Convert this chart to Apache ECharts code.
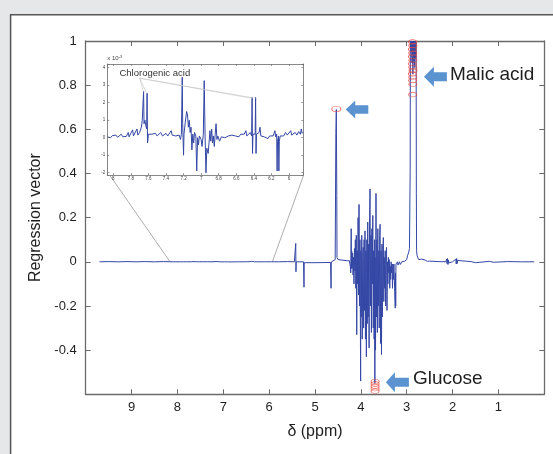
<!DOCTYPE html>
<html><head><meta charset="utf-8">
<script src="https://cdn.jsdelivr.net/npm/echarts@6/dist/echarts.min.js"></script>
<style>html,body{margin:0;padding:0;background:#fff}#c{width:553px;height:454px}</style>
</head><body><div id="c"></div>
<script>
// ---------- DATA (ppm, regression value) ----------
const spectrumHigh = [[9.70,0],[9.5,0.001],[9.3,0],[9.1,0.001],[8.9,0],[8.7,0.001],[8.5,0],[8.3,0.001],[8.1,0]];
// inset region, values in units of 1e-3
const insetSpectrum = [
[8.07,0.05],[8.05,0.1],[8.03,0.0],[8.01,0.12],[7.99,0.05],[7.97,0.15],[7.95,0.02],[7.93,0.1],[7.91,0.2],[7.89,0.05],
[7.87,0.15],[7.85,0.08],[7.83,0.3],[7.82,0.05],[7.80,0.15],[7.78,0.45],[7.77,0.1],[7.75,0.2],[7.73,0.5],[7.72,0.15],
[7.70,0.3],[7.68,0.6],[7.67,1.0],[7.66,0.9],[7.655,2.65],[7.65,0.8],[7.64,1.0],[7.63,0.7],[7.62,0.5],[7.615,2.55],
[7.61,-0.3],[7.60,0.2],[7.58,0.1],[7.56,0.2],[7.54,0.15],[7.52,0.25],[7.50,0.1],[7.48,0.2],[7.46,0.3],[7.44,0.1],
[7.42,0.15],[7.40,0.25],[7.38,0.1],[7.36,0.2],[7.34,0.4],[7.33,0.15],[7.31,0.2],[7.29,0.1],[7.27,0.2],[7.25,0.15],
[7.235,-0.1],[7.225,0.2],[7.215,3.45],[7.21,0.8],[7.20,-1.0],[7.195,0.2],[7.18,0.9],[7.165,1.5],[7.155,1.3],[7.145,0.6],
[7.135,1.0],[7.125,0.3],[7.115,0.6],[7.105,-0.7],[7.095,0.2],[7.085,-0.3],[7.075,0.3],[7.06,0.1],[7.05,-1.9],[7.04,0.0],
[7.03,-0.4],[7.02,0.1],[7.00,-0.1],[6.99,-0.5],[6.975,0.2],[6.965,3.26],[6.955,0.1],[6.945,-2.0],[6.935,-0.6],[6.92,-0.9],
[6.91,-0.3],[6.90,0.4],[6.89,-0.2],[6.88,0.5],[6.87,-0.3],[6.86,0.1],[6.85,-0.5],[6.84,0.2],[6.83,0.8],[6.82,-0.1],
[6.81,0.1],[6.79,-0.2],[6.77,0.05],[6.75,0.1],[6.73,0.0],[6.71,0.05],[6.69,0.1],[6.67,0.05],[6.65,0.15],[6.63,0.05],
[6.61,0.1],[6.59,0.15],[6.57,0.05],[6.55,0.2],[6.53,0.1],[6.51,0.2],[6.49,0.4],[6.48,0.1],[6.46,0.15],[6.44,0.3],
[6.425,0.1],[6.42,2.3],[6.415,-0.9],[6.41,0.2],[6.40,0.1],[6.385,0.2],[6.38,2.3],[6.375,-0.9],[6.37,0.2],[6.36,0.1],
[6.34,0.3],[6.33,0.6],[6.32,0.1],[6.30,0.2],[6.28,0.05],[6.26,0.1],[6.24,-0.05],[6.22,0.1],[6.20,0.0],[6.18,0.1],
[6.16,0.4],[6.15,0.05],[6.14,0.2],[6.135,-1.9],[6.13,-0.2],[6.12,0.1],[6.115,-1.9],[6.11,-0.2],[6.10,0.1],[6.08,0.2],
[6.06,0.1],[6.04,0.3],[6.02,0.15],[6.00,0.25],[5.98,0.4],[5.97,0.15],[5.95,0.2],[5.93,0.3],[5.91,0.15],[5.89,0.35],
[5.87,0.2],[5.86,0.5],[5.85,0.25],[5.84,0.3]
];
const spectrumLow = [
[5.80,0],[5.60,0.001],[5.45,0],[5.42,0.083],[5.415,-0.045],[5.41,0],[5.25,0],[5.24,-0.115],[5.235,-0.004],[5.0,-0.004],
[4.66,-0.003],[4.65,-0.12],[4.645,-0.01],[4.64,0],[4.56,0.01],[4.545,0.58],[4.535,0.69],[4.525,0.3],[4.52,0.02],[4.50,0.01],
[4.30,0.005],[4.25,0.005],[4.24,0.0],[4.23,-0.02],[4.22,-0.05],[4.215,0.08],[4.21,0.15],[4.205,-0.03],[4.20,0.05],[4.19,-0.03],
[4.18,0.04],[4.17,-0.06],[4.16,0.02],[4.15,-0.1],[4.14,0.06],[4.13,-0.04],[4.12,0.1],[4.11,-0.12],[4.10,0.12],[4.09,-0.33],
[4.08,0.05],[4.07,-0.1],[4.06,0.2],[4.05,-0.15],[4.04,0.26],[4.03,-0.2],[4.02,0.1],[4.01,-0.3],[4.005,-0.54],[4.00,0.05],
[3.99,-0.25],[3.98,0.12],[3.97,-0.35],[3.96,0.02],[3.95,0.065],[3.94,-0.3],[3.93,0.1],[3.92,-0.22],[3.91,0.14],[3.90,-0.35],
[3.89,0.05],[3.88,-0.43],[3.87,0.1],[3.86,-0.28],[3.85,0.18],[3.84,-0.25],[3.83,0.08],[3.82,-0.39],[3.81,0.2],[3.80,0.33],
[3.79,-0.2],[3.78,0.12],[3.77,-0.32],[3.76,0.15],[3.75,-0.1],[3.74,0.21],[3.73,-0.3],[3.72,0.05],[3.71,-0.35],[3.70,0.1],
[3.695,-0.55],[3.69,0.02],[3.68,-0.4],[3.67,0.31],[3.66,-0.25],[3.65,0.1],[3.64,-0.32],[3.63,0.15],[3.62,-0.2],[3.61,0.05],
[3.60,-0.3],[3.59,0.12],[3.58,0.17],[3.57,-0.37],[3.56,0.05],[3.55,-0.42],[3.54,0.08],[3.53,-0.25],[3.52,0.03],[3.51,0.11],
[3.50,-0.18],[3.49,0.02],[3.48,-0.12],[3.47,0.05],[3.46,-0.2],[3.45,0.03],[3.44,0.065],[3.43,-0.22],[3.42,0.0],[3.41,-0.1],
[3.40,0.02],[3.39,-0.05],[3.38,0.01],[3.37,-0.12],[3.36,-0.02],[3.35,-0.08],[3.34,0.0],[3.33,-0.05],[3.32,-0.01],[3.31,-0.12],
[3.30,-0.01],[3.29,-0.08],[3.28,-0.01],[3.27,-0.01],[3.25,-0.21],[3.245,-0.05],[3.24,-0.2],[3.235,-0.01],[3.22,-0.01],[3.20,0.0],
[3.19,-0.015],[3.17,-0.015],[3.16,0],[3.14,-0.012],[3.12,-0.012],[3.11,0],[3.05,0.002],[3.00,0.01],[2.98,0.03],[2.96,0.04],
[2.94,0.06],[2.925,0.41],[2.92,1.0],[2.905,0.95],[2.895,1.0],[2.885,0.9],[2.875,1.0],[2.865,0.85],[2.855,1.0],[2.845,0.9],
[2.835,1.0],[2.825,0.88],[2.815,1.0],[2.805,0.92],[2.795,1.0],[2.79,0.31],[2.785,0.05],[2.775,0.03],[2.76,0.02],[2.74,0.01],
[2.70,0.01],[2.68,0.012],[2.65,0.005],[2.60,0.008],[2.55,0.002],[2.50,0.003],[2.30,0.001],[2.15,0],[2.13,0.012],[2.12,-0.008],
[2.11,0.015],[2.10,-0.012],[2.09,0.008],[2.08,-0.005],[2.05,0.002],[2.00,0],[1.96,0.002],[1.93,0.012],[1.92,-0.01],[1.91,0.015],
[1.90,-0.008],[1.89,0.006],[1.85,0],[1.60,0.001],[1.50,-0.004],[1.48,0.0],[1.20,0.002],[1.10,-0.002],[0.80,0.001],[0.50,0],[0.22,0]
];
const malicPeaks = [[2.872,0.996],[2.866,0.979],[2.876,0.962],[2.868,0.945],[2.874,0.929],[2.865,0.913],[2.877,0.897],
  [2.869,0.881],[2.864,0.866],[2.875,0.851],[2.868,0.836],[2.872,0.821],[2.866,0.804],[2.870,0.757]];
const glucosePeaks = [[3.69,-0.542],[3.69,-0.553],[3.69,-0.564],[3.69,-0.575],[3.69,-0.586]];
const chlorogenicPeak = [[4.535,0.692]];
const chlorogenicInsetPeaks = [[7.655,2.6],[7.615,2.5],[6.42,2.25],[6.38,2.25]];
const mainXTicks = [9,8,7,6,5,4,3,2,1];
const mainYTicks = [1,0.8,0.6,0.4,0.2,0,-0.2,-0.4];
const insetXTicks = [8,7.8,7.6,7.4,7.2,7,6.8,6.6,6.4,6.2,6];
const insetYTicks = [4,3,2,1,0,-1,-2];
const labels = {x:'δ (ppm)', y:'Regression vector', malic:'Malic acid', glucose:'Glucose', chloro:'Chlorogenic acid'};

// ---------- CHART ----------
const FONT = '"Liberation Sans", Arial, Helvetica, sans-serif';
const AX = '#6a6a6a', TXT = '#1e1e1e', BLUE = '#3447a5', RED = '#e8463c', ARROW = '#5b93d0';
const mainData = [...spectrumHigh, ...insetSpectrum.map(p => [p[0], p[1]*1e-3]), ...spectrumLow];
const near = (arr, v) => arr.some(t => Math.abs(t - v) < 1e-6);
const fmt = v => String(Math.round(v*10)/10);

function axisBase(grid, tickLen, lineW, z) {
  return {gridIndex: grid, type: 'value', z: z, splitLine: {show: false},
    axisLine: {show: true, onZero: false, lineStyle: {color: AX, width: lineW}},
    axisTick: {show: true, inside: true, length: tickLen, lineStyle: {color: AX, width: lineW*0.8}}};
}
const xMain = Object.assign(axisBase(0, 5, 1.3, 1), {min: 0, max: 10, interval: 1, inverse: true, position: 'bottom',
  axisLabel: {margin: 7, fontSize: 13, color: TXT, fontFamily: FONT, formatter: v => near(mainXTicks, v) ? fmt(v) : ''},
  name: labels.x, nameLocation: 'middle', nameGap: 29, nameTextStyle: {fontSize: 16, color: TXT, fontFamily: FONT}});
const xMainTop = Object.assign(axisBase(0, 5, 1.3, 1), {min: 0, max: 10, interval: 1, inverse: true, position: 'top', axisLabel: {show: false}});
const yMain = Object.assign(axisBase(0, 5, 1.3, 1), {min: -0.6, max: 1, interval: 0.2, position: 'left',
  axisLabel: {margin: 9, fontSize: 13, color: TXT, fontFamily: FONT, formatter: v => near(mainYTicks, v) ? fmt(v) : ''},
  name: labels.y, nameLocation: 'middle', nameGap: 32, nameRotate: 90, nameTextStyle: {fontSize: 16, color: TXT, fontFamily: FONT}});
const yMainRight = Object.assign(axisBase(0, 5, 1.3, 1), {min: -0.6, max: 1, interval: 0.2, position: 'right', axisLabel: {show: false}});

const xIn = Object.assign(axisBase(1, 2, 0.8, 6), {min: 5.837, max: 8.068, splitNumber: 10, inverse: true, position: 'bottom',
  axisLabel: {margin: 1.5, fontSize: 4.5, color: '#444', fontFamily: FONT, interval: 0, hideOverlap: false,
    formatter: v => near(insetXTicks, v) ? fmt(v) : ''}});
const xInTop = Object.assign(axisBase(1, 2, 0.8, 6), {min: 5.837, max: 8.068, splitNumber: 10, inverse: true, position: 'top', axisLabel: {show: false}});
const yIn = Object.assign(axisBase(1, 2, 0.8, 6), {min: -2.13, max: 4.21, splitNumber: 6, position: 'left',
  axisLabel: {margin: 2, fontSize: 4.5, color: '#444', fontFamily: FONT, hideOverlap: false,
    formatter: v => near(insetYTicks, v) ? fmt(v) : ''}});
const yInRight = Object.assign(axisBase(1, 2, 0.8, 6), {min: -2.13, max: 4.21, splitNumber: 6, position: 'right', axisLabel: {show: false}});

const circle = (size) => ({type: 'scatter', symbol: 'circle', symbolSize: size, z: 5, silent: true,
  itemStyle: {color: 'rgba(0,0,0,0)', borderColor: RED, borderWidth: 0.8}});

const chart = echarts.init(document.getElementById('c'));
chart.setOption({
  animation: false,
  backgroundColor: '#ffffff',
  textStyle: {fontFamily: FONT},
  grid: [
    {left: 85.7, top: 41, right: 8.7, bottom: 59.7},
    {left: 107.3, top: 64, width: 196, height: 111, show: true, backgroundColor: '#ffffff', borderWidth: 0}
  ],
  xAxis: [xMain, xMainTop, xIn, xInTop],
  yAxis: [yMain, yMainRight, yIn, yInRight],
  series: [
    {type: 'line', xAxisIndex: 0, yAxisIndex: 0, data: mainData, showSymbol: false, sampling: false,
      lineStyle: {color: BLUE, width: 1}, z: 2, silent: true},
    {type: 'line', xAxisIndex: 2, yAxisIndex: 2, data: insetSpectrum, showSymbol: false,
      lineStyle: {color: BLUE, width: 1}, z: 4, silent: true},
    Object.assign(circle([8, 4.5]), {xAxisIndex: 0, yAxisIndex: 0, data: malicPeaks}),
    Object.assign(circle([8, 4.5]), {xAxisIndex: 0, yAxisIndex: 0, data: glucosePeaks}),
    Object.assign(circle([9, 5.5]), {xAxisIndex: 0, yAxisIndex: 0, data: chlorogenicPeak})
  ]
});

// ---------- ANNOTATIONS ----------
const px = (s, pt) => chart.convertToPixel({seriesIndex: s}, pt);
function arrow(tip, L, hl, hh, sh) {
  const [x, y] = tip;
  return {type: 'polygon', z: 10, shape: {points: [[x, y], [x+hl, y-hh], [x+hl, y-sh], [x+L, y-sh], [x+L, y+sh], [x+hl, y+sh], [x+hl, y+hh]]},
    style: {fill: ARROW}};
}
const gIn = chart.getModel().getComponent('grid', 1).coordinateSystem.getRect();
const a0 = px(0, [8.16, 0]), a1 = px(0, [5.93, 0]);
const chLabel = px(1, [7.93, 3.7]);
const chAnchor = px(1, [7.70, 3.4]);
const malicTip = px(0, [2.625, 0.838]);
const c4Tip = px(0, [4.33, 0.69]);
const gluTip = px(0, [3.454, -0.545]);
const graphics = [
  {type: 'rect', shape: {x: 0, y: 0, width: 553, height: 14.8}, style: {fill: '#e6e7e9'}, z: 0},
  {type: 'rect', shape: {x: 0, y: 0, width: 10.6, height: 454}, style: {fill: '#e6e7e9'}, z: 0},
  {type: 'polyline', shape: {points: [[10.6, 454], [10.6, 14.8], [553, 14.8]]}, style: {stroke: '#555', lineWidth: 1.5, fill: null}, z: 1},
  {type: 'line', shape: {x1: a0[0], y1: a0[1], x2: gIn.x + 3, y2: gIn.y + gIn.height + 1}, style: {stroke: '#8a8a8a', lineWidth: 0.7}, z: 1},
  {type: 'line', shape: {x1: a1[0], y1: a1[1], x2: gIn.x + gIn.width, y2: gIn.y + gIn.height + 1}, style: {stroke: '#8a8a8a', lineWidth: 0.7}, z: 1},
  {type: 'text', z: 20, style: {x: gIn.x, y: gIn.y - 1.5, text: '{a|x 10}{b|-3}', verticalAlign: 'bottom', fill: '#444',
    rich: {a: {fontSize: 6, fontFamily: FONT, fill: '#444'}, b: {fontSize: 4, fontFamily: FONT, fill: '#444', verticalAlign: 'top', padding: [0, 0, 4, 0]}}}},
  {type: 'text', z: 20, style: {x: chLabel[0], y: chLabel[1], text: labels.chloro, fontSize: 9.5, fontFamily: FONT, fill: '#333', verticalAlign: 'middle'}},
  arrow(malicTip, 23, 10, 10, 4.5),
  arrow(c4Tip, 22.6, 9.5, 9, 4.2),
  arrow(gluTip, 23, 9, 10, 4.5),
  {type: 'text', z: 20, style: {x: malicTip[0] + 26, y: malicTip[1] - 2, text: labels.malic, fontSize: 19, fontFamily: FONT, fill: '#1e1e1e', verticalAlign: 'middle'}},
  {type: 'text', z: 20, style: {x: gluTip[0] + 27, y: gluTip[1] - 3, text: labels.glucose, fontSize: 19, fontFamily: FONT, fill: '#1e1e1e', verticalAlign: 'middle'}}
];
chlorogenicInsetPeaks.forEach(p => {
  const q = px(1, p);
  graphics.push({type: 'line', z: 6, shape: {x1: chAnchor[0], y1: chAnchor[1], x2: q[0], y2: q[1]}, style: {stroke: '#c4c4c4', lineWidth: 0.6}});
});
chart.setOption({graphic: graphics});
</script>
</body></html>
